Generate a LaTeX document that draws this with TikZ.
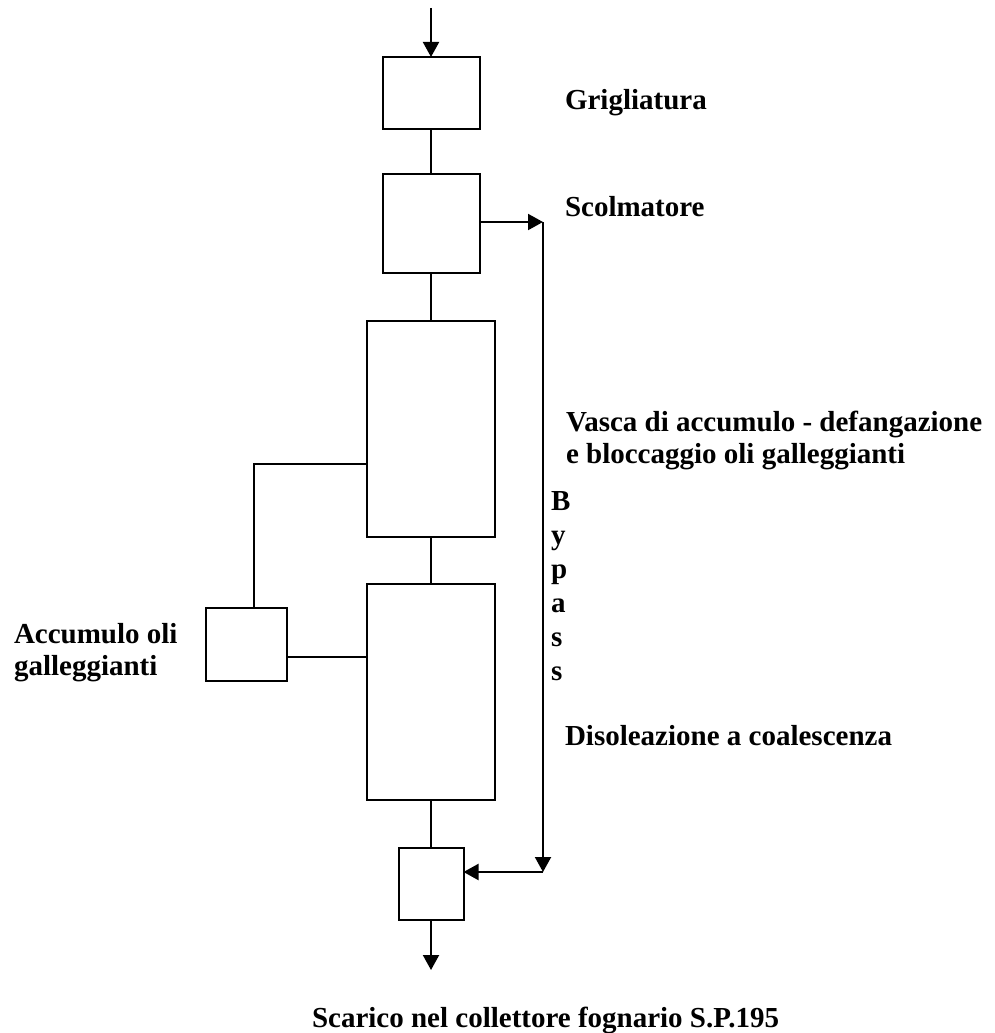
\documentclass[tikz,border=0pt]{standalone}
\usepackage{fontspec}
\setmainfont{Liberation Serif}
\usepackage{tikz}
\usetikzlibrary{positioning}
\usetikzlibrary{arrows.meta}

\tikzset{
  box/.style={draw, line width=2pt, inner sep=0pt, outer sep=0pt},
  lbl/.style={font=\fontsize{29}{32}\selectfont\bfseries, inner sep=0pt, anchor=base west, align=left},
  flow/.style={-{Triangle[length=15pt,width=16pt]}}
}

\begin{document}
\begin{tikzpicture}[x=1pt, y=-1pt, line width=2pt]
  \useasboundingbox (0,0) rectangle (995,1033);

  \node[box, minimum width=97pt, minimum height=72pt] (grig) at (431,93) {};
  \node[box, minimum width=97pt, minimum height=99pt, below=45pt of grig] (scolm) {};
  \node[box, minimum width=128pt, minimum height=216pt, below=48pt of scolm] (vasca) {};
  \node[box, minimum width=128pt, minimum height=216pt, below=47pt of vasca] (disol) {};
  \node[box, minimum width=65pt, minimum height=72pt, below=48pt of disol] (pozz) {};
  \node[box, minimum width=81pt, minimum height=73pt] (accum) at (246.5,644.5) {};

  \coordinate (in) at (431,8);
  \coordinate (out) at (431,970);
  \coordinate (bp1) at (543,222);
  \coordinate (bp2) at (543,872);
  \coordinate (br) at (254,464);
  \coordinate (ac) at (327,657);

  \draw[flow] (in) -- (grig);
  \draw (grig) -- (scolm);
  \draw (scolm) -- (vasca);
  \draw (vasca) -- (disol);
  \draw (disol) -- (pozz);
  \draw[flow] (pozz) -- (out);

  % bypass
  \draw[flow] (bp1 -| scolm.east) -- (bp1);
  \draw[flow] (bp1) -- (bp2);
  \draw[flow] (bp2) -- (bp2 -| pozz.east);

  % oli
  \draw (br -| vasca.west) -- (br) -- (br |- accum.north);
  \draw (ac -| accum.east) -- (ac -| disol.west);

  \node[lbl] (tgrig) at (564,109) {Grigliatura};
  \node[lbl] (tscolm) at (564,216) {Scolmatore};
  \node[lbl] (tvasca) at (565,463) {Vasca di accumulo - defangazione\\e bloccaggio oli galleggianti};
  \node[lbl] (taccum) at (13,675) {Accumulo oli\\galleggianti};
  \node[lbl] (tdisol) at (564,745) {Disoleazione a coalescenza};
  \node[lbl] (tscar) at (311,1027) {Scarico nel collettore fognario S.P.195};
  \foreach \c [count=\i] in {B,y,p,a,s,s}
    \node[lbl] (tbp\i) at (550,476+34*\i) {\c};
\end{tikzpicture}
\end{document}
